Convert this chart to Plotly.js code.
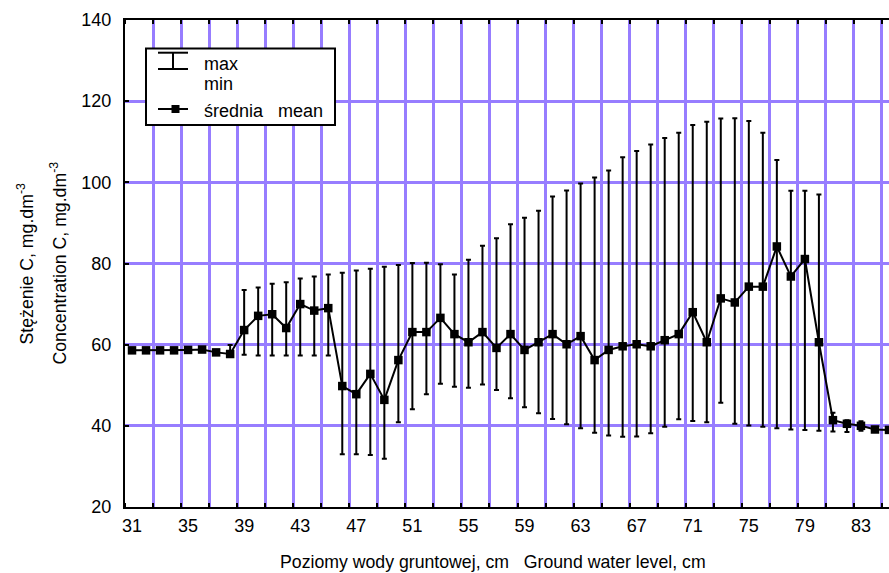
<!DOCTYPE html>
<html>
<head>
<meta charset="utf-8">
<script src="https://cdn.plot.ly/plotly-3.0.1.min.js"></script>
<style>html,body{margin:0;padding:0;background:#fff;}#chart{width:889px;height:573px;}</style>
</head>
<body>
<div id="chart"></div>
<script>
// Ground water level, cm
const levels = [31,32,33,34,35,36,37,38,39,40,41,42,43,44,45,46,47,48,49,50,
                51,52,53,54,55,56,57,58,59,60,61,62,63,64,65,66,67,68,69,70,
                71,72,73,74,75,76,77,78,79,80,81,82,83,84,85];
// mean concentration (średnia / mean)
const meanVals = [58.6,58.6,58.6,58.6,58.7,58.8,58.1,57.7,63.6,67.1,67.5,64.1,70.0,68.4,69.0,49.8,47.8,52.8,46.4,56.2,
                  63.1,63.1,66.6,62.6,60.6,63.1,59.2,62.6,58.7,60.6,62.6,60.1,62.1,56.2,58.7,59.6,60.1,59.6,61.1,62.6,
                  68.0,60.6,71.4,70.4,74.3,74.3,84.2,76.8,81.1,60.6,41.4,40.5,40.0,39.1,39.0];
// maximum
const maxVals = [58.9,58.9,58.9,58.9,59.0,59.1,58.4,59.9,73.5,74.1,75.0,75.4,76.3,76.8,77.3,77.7,78.3,78.7,79.2,79.6,
                 80.1,80.2,79.8,77.3,80.9,84.4,86.2,89.7,91.3,93.0,96.5,98.0,99.7,101.2,102.9,106.2,107.7,109.3,110.9,112.2,
                 114.1,114.9,115.7,115.8,115.1,112.2,105.5,97.9,97.9,97.0,43.2,41.4,41.1,39.5,39.3];
// minimum
const minVals = [58.3,58.3,58.3,58.3,58.4,58.5,57.8,57.5,57.5,57.3,57.3,57.3,57.3,57.3,57.3,33.0,33.0,32.8,31.9,40.9,
                 44.1,47.8,50.4,49.6,49.4,50.2,48.8,46.8,44.6,43.1,41.7,40.4,39.4,38.3,37.6,37.3,37.4,38.2,39.8,41.6,
                 41.2,40.9,45.7,40.5,40.1,39.8,39.4,39.1,39.0,38.8,38.6,38.5,38.8,38.7,38.7];
const xTickVals = [31,35,39,43,47,51,55,59,63,67,71,75,79,83];
const xTickText = ['31','35','39','43','47','51','55','59','63','67','71','75','79','83'];
const yTickVals = [20,40,60,80,100,120,140];

const plus = maxVals.map((v,i)=>v-meanVals[i]);
const minus = meanVals.map((v,i)=>v-minVals[i]);

const GRID = '#977dff';
const FONT = 'Arial, "Liberation Sans", sans-serif';

const trace = {
  x: levels, y: meanVals, type: 'scatter', mode: 'lines+markers',
  line: {color: '#000', width: 2},
  marker: {symbol: 'square', size: 8.5, color: '#000'},
  error_y: {type: 'data', symmetric: false, array: plus, arrayminus: minus,
            color: '#000', thickness: 2, width: 2.5},
  showlegend: false, cliponaxis: true
};

// legend built from shapes (pixel -> paper)
const L = 125, T = 20, W = 764, H = 487;
const px = p => (p - L) / W;
const py = p => (T + H - p) / H;

const shapes = [
  {type:'rect', xref:'paper', yref:'paper', x0:px(146), x1:px(335), y0:py(48.5), y1:py(125),
   line:{color:'#000', width:2}, fillcolor:'#fff', layer:'above'},
  {type:'line', xref:'paper', yref:'paper', x0:px(158), x1:px(188), y0:py(52.7), y1:py(52.7), line:{color:'#000', width:2}, layer:'above'},
  {type:'line', xref:'paper', yref:'paper', x0:px(158), x1:px(188), y0:py(69), y1:py(69), line:{color:'#000', width:2}, layer:'above'},
  {type:'line', xref:'paper', yref:'paper', x0:px(173), x1:px(173), y0:py(52.7), y1:py(69), line:{color:'#000', width:2}, layer:'above'},
  {type:'line', xref:'paper', yref:'paper', x0:px(158), x1:px(188), y0:py(109), y1:py(109), line:{color:'#000', width:2}, layer:'above'},
  {type:'rect', xref:'paper', yref:'paper', x0:px(171.5), x1:px(179.5), y0:py(105), y1:py(113), line:{width:0}, fillcolor:'#000', layer:'above'}
];

const ann = (text, x, y, extra) => Object.assign({text, xref:'paper', yref:'paper', x, y,
  showarrow:false, font:{family:FONT, size:18, color:'#000'}}, extra||{});

const annotations = [
  ann('max', px(202), py(64), {xanchor:'left', yanchor:'middle'}),
  ann('min', px(202), py(84), {xanchor:'left', yanchor:'middle'}),
  ann('średnia\u00a0\u00a0\u00a0mean', px(202), py(111), {xanchor:'left', yanchor:'middle'}),
  ann('Stężenie C, mg.dm<sup>-3</sup>', px(25), 0.5, {xanchor:'center', yanchor:'middle', textangle:-90, font:{family:FONT, size:17.7, color:'#000'}}),
  ann('Concentration C, mg.dm<sup>-3</sup>', px(58), 0.5, {xanchor:'center', yanchor:'middle', textangle:-90, font:{family:FONT, size:17.7, color:'#000'}}),
  ann('Poziomy wody gruntowej, cm\u00a0\u00a0\u00a0Ground water level, cm', px(493), py(562), {xanchor:'center', yanchor:'middle', font:{family:FONT, size:17.7, color:'#000'}})
];

const layout = {
  width: 889, height: 573,
  margin: {l: L, r: 0, t: T, b: 573 - T - H, pad: 0},
  paper_bgcolor: '#fff', plot_bgcolor: '#fff',
  font: {family: FONT, size: 18, color: '#000'},
  xaxis: {
    range: [30.5, 85.0], tickmode: 'array', tickvals: xTickVals, ticktext: xTickText,
    ticks: '', showgrid: false, zeroline: false,
    showline: true, linecolor: '#000', linewidth: 2, mirror: 'ticks',
    ticklabelstandoff: 1,
    minor: {tickmode: 'linear', tick0: 30.5, dtick: 2, showgrid: true, gridcolor: GRID, gridwidth: 3,
            ticks: 'inside', ticklen: 4, tickcolor: '#000', tickwidth: 2}
  },
  yaxis: {
    range: [20, 140], tickmode: 'array', tickvals: yTickVals,
    showgrid: true, gridcolor: GRID, gridwidth: 3, zeroline: false,
    showline: true, linecolor: '#000', linewidth: 2, mirror: false,
    ticks: 'inside', ticklen: 4, tickcolor: '#000', tickwidth: 2,
    ticklabelstandoff: 8
  },
  shapes, annotations
};

Plotly.newPlot('chart', [trace], layout, {displayModeBar: false, staticPlot: true});
</script>
</body>
</html>
